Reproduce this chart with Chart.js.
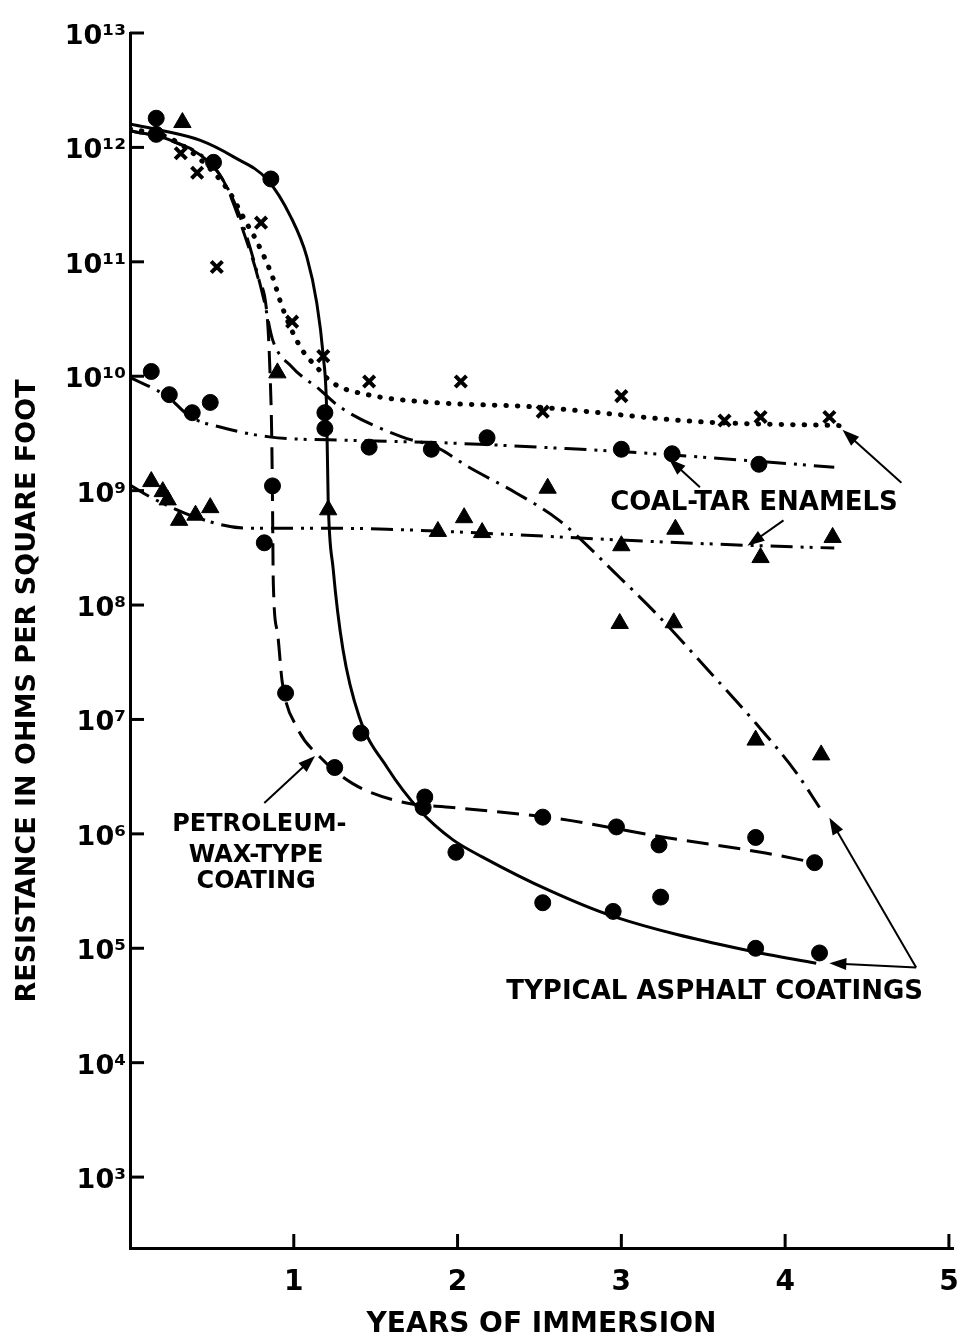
<!DOCTYPE html>
<html>
<head>
<meta charset="utf-8">
<script src="https://cdn.jsdelivr.net/npm/chart.js@4.4.1/dist/chart.umd.min.js"></script>
<style>
  html, body { margin: 0; padding: 0; background: #fff; }
  #wrap { width: 957px; height: 1342px; }
</style>
</head>
<body>
<div id="wrap"><canvas id="coatingChart"></canvas></div>
<script>
// values: years of immersion vs resistance (ohms per sq ft)

// typical asphalt coating, solid curve + circles
const asphaltCurveYears = [0, 0.2, 0.43, 0.63, 0.84, 0.98, 1.08, 1.14, 1.18, 1.2, 1.21, 1.24, 1.3, 1.4, 1.57, 1.77, 1.97, 2.15, 2.56, 2.95, 3.78, 4.19];
const asphaltCurveOhms = [1.6e12, 1.4e12, 1.15e12, 8.3e11, 5.2e11, 2.5e11, 1.1e11, 4.4e10, 1.5e10, 5.4e9, 8.3e8, 2.1e8, 4.1e7, 1.05e7, 3.8e6, 1.6e6, 8.9e5, 6.3e5, 3.2e5, 1.9e5, 9.5e4, 7.4e4];
const asphaltDotYears = [0.16, 0.16, 0.86, 1.19, 1.19, 1.41, 1.79, 1.99, 2.52, 2.95, 3.24, 3.82, 4.21];
const asphaltDotOhms = [1.8e12, 1.3e12, 5.3e11, 4.8e9, 3.5e9, 7.6e6, 1.7e6, 6.9e5, 2.5e5, 2.1e5, 2.8e5, 1.0e5, 9.1e4];

// second asphalt coating, dash-dot curve + triangles
const asphalt2CurveYears = [0, 0.25, 0.51, 0.65, 0.75, 0.82, 0.87, 0.99, 1.16, 1.28, 1.66, 1.87, 2.07, 2.36, 2.62, 2.99, 3.21, 3.54, 3.82, 4.07, 4.21];
const asphalt2CurveOhms = [1.4e12, 1.15e12, 6.8e11, 3e11, 1.1e11, 4.5e10, 2.1e10, 1.2e10, 7.6e9, 5.4e9, 2.95e9, 2.4e9, 1.6e9, 9.5e8, 5.5e8, 1.74e8, 8.5e7, 2.6e7, 9.3e6, 3.4e6, 1.7e6];
const asphalt2DotYears = [0.32, 0.9, 1.21, 2.55, 2.99, 3.32, 3.82, 4.22];
const asphalt2DotOhms = [1.65e12, 1.07e10, 6.8e8, 1.05e9, 6.9e7, 7e7, 6.6e6, 4.9e6];

// petroleum-wax-type coating, dashed curve + circles
const waxCurveYears = [0, 0.25, 0.51, 0.59, 0.71, 0.78, 0.84, 0.855, 0.865, 0.87, 0.875, 0.9, 0.93, 1.02, 1.16, 1.36, 1.66, 1.97, 2.58, 3.27, 3.88, 4.18];
const waxCurveOhms = [1.4e12, 1.15e12, 6.8e11, 4.5e11, 1.55e11, 7.4e10, 3e10, 1.07e10, 3.2e9, 8.3e8, 1.55e8, 5.8e7, 2.1e7, 8.5e6, 4.7e6, 2.75e6, 1.9e6, 1.7e6, 1.38e6, 9.3e5, 6.8e5, 5.6e5];
const waxDotYears = [0.51, 0.87, 0.82, 0.95, 1.25, 1.8, 2.52, 2.97, 3.23, 3.82, 4.18];
const waxDotOhms = [7.4e11, 1.1e9, 3.5e8, 1.7e7, 3.8e6, 2.1e6, 1.4e6, 1.15e6, 8e5, 9.3e5, 5.6e5];

// coal-tar enamels: dotted curve + crosses
const tarXCurveYears = [0, 0.23, 0.41, 0.6, 0.71, 0.77, 0.87, 0.93, 1.04, 1.14, 1.24, 1.45, 1.85, 2.46, 3.48, 4.33];
const tarXCurveOhms = [1.45e12, 1.23e12, 8.3e11, 4.2e11, 2.2e11, 1.55e11, 7.4e10, 4e10, 1.8e10, 1.2e10, 8.7e9, 6.9e9, 5.9e9, 5.4e9, 4e9, 3.7e9];
const tarXDotYears = [0.31, 0.41, 0.53, 0.8, 0.99, 1.18, 1.46, 2.02, 2.52, 3.0, 3.63, 3.85, 4.27];
const tarXDotOhms = [8.9e11, 6e11, 9e10, 2.2e11, 3e10, 1.5e10, 9e9, 9e9, 4.9e9, 6.7e9, 4.1e9, 4.4e9, 4.4e9];

// coal-tar enamels: dash-dot-dot curve + circles
const tarCircleCurveYears = [0, 0.23, 0.37, 0.55, 0.85, 1.36, 1.97, 2.62, 2.99, 3.84, 4.3];
const tarCircleCurveOhms = [9.8e9, 6.6e9, 4.4e9, 3.6e9, 2.95e9, 2.75e9, 2.6e9, 2.35e9, 2.2e9, 1.8e9, 1.6e9];
const tarCircleDotYears = [0.13, 0.24, 0.38, 0.49, 1.46, 1.84, 2.18, 3.0, 3.31, 3.84];
const tarCircleDotOhms = [1.1e10, 6.9e9, 4.8e9, 5.9e9, 2.4e9, 2.3e9, 2.9e9, 2.3e9, 2.1e9, 1.7e9];

// coal-tar enamels: dash-dot-dot curve + triangles
const tarTriCurveYears = [0, 0.13, 0.41, 0.71, 1.16, 1.57, 2.38, 2.99, 3.84, 4.3];
const tarTriCurveOhms = [1.12e9, 8.7e8, 5.8e8, 4.7e8, 4.7e8, 4.6e8, 4.1e8, 3.7e8, 3.3e8, 3.15e8];
const tarTriDotYears = [0.13, 0.2, 0.23, 0.3, 0.4, 0.49, 1.88, 2.04, 2.15, 3.0, 3.33, 3.85, 4.29];
const tarTriDotOhms = [1.2e9, 9.8e8, 8.3e8, 5.5e8, 6.1e8, 7.1e8, 4.4e8, 5.8e8, 4.3e8, 3.3e8, 4.6e8, 2.6e8, 3.9e8];

// axis ticks
const xTickValues = [1, 2, 3, 4, 5];
const xTickLabels = ['1', '2', '3', '4', '5'];
const yTickValues = [1e3, 1e4, 1e5, 1e6, 1e7, 1e8, 1e9, 1e10, 1e11, 1e12, 1e13];
const yTickLabels = ['10³', '10⁴', '10⁵', '10⁶', '10⁷', '10⁸', '10⁹', '10¹⁰', '10¹¹', '10¹²', '10¹³'];

const FONT = "'DejaVu Sans', 'Liberation Sans', Arial, sans-serif";

// labels and arrows, placed in data units
const notes = [
    { text: 'COAL-TAR ENAMELS', x: 3.81, y: 7.8e8 },
    { text: 'PETROLEUM-', x: 0.79, y: 1.2e6 },
    { text: 'WAX-TYPE', x: 0.77, y: 6.5e5 },
    { text: 'COATING', x: 0.77, y: 3.8e5 },
    { text: 'TYPICAL ASPHALT COATINGS', x: 3.57, y: 4.1e4 }
];
const arrows = [
    [3.48, 1.07e9, 3.29, 1.9e9],
    [4.71, 1.17e9, 4.35, 3.4e9],
    [3.99, 5.5e8, 3.77, 3.3e8],
    [0.82, 1.86e6, 1.13, 4.8e6],
    [4.8, 6.8e4, 4.27, 1.38e6],
    [4.8, 6.8e4, 4.27, 7.4e4]
];

function pts(xs, ys) {
    return xs.map((x, i) => ({ x: x, y: ys[i] }));
}

function curve(xs, ys, dash, cap, width) {
    return {
        data: pts(xs, ys),
        showLine: true,
        borderColor: '#000',
        borderWidth: width || 3,
        borderDash: dash,
        borderCapStyle: cap || 'butt',
        pointRadius: 0,
        cubicInterpolationMode: 'monotone',
        fill: false
    };
}

function marks(xs, ys, style, r) {
    return {
        data: pts(xs, ys),
        showLine: false,
        pointStyle: style,
        pointRadius: r,
        backgroundColor: '#000',
        borderColor: '#000',
        borderWidth: style === 'crossRot' ? 4 : 1
    };
}

const decorations = {
    id: 'decorations',
    afterDatasetsDraw(chart) {
        const { ctx } = chart;
        const x = chart.scales.x;
        const y = chart.scales.y;
        ctx.save();
        ctx.strokeStyle = '#000';
        ctx.fillStyle = '#000';

        // inward tick marks
        ctx.lineWidth = 3;
        yTickValues.forEach(v => {
            const py = y.getPixelForValue(v);
            ctx.beginPath();
            ctx.moveTo(x.left, py);
            ctx.lineTo(x.left + 14, py);
            ctx.stroke();
        });
        xTickValues.forEach(v => {
            const px = x.getPixelForValue(v);
            ctx.beginPath();
            ctx.moveTo(px, y.bottom);
            ctx.lineTo(px, y.bottom - 14);
            ctx.stroke();
        });

        // y axis title
        ctx.save();
        ctx.translate(28, 691);
        ctx.rotate(-Math.PI / 2);
        ctx.font = 'bold 27px ' + FONT;
        ctx.textAlign = 'center';
        ctx.textBaseline = 'middle';
        ctx.fillText('RESISTANCE IN OHMS PER SQUARE FOOT', 0, 0);
        ctx.restore();

        // notes
        ctx.textAlign = 'center';
        ctx.textBaseline = 'middle';
        notes.forEach(n => {
            ctx.font = (n.text.length > 12 ? 'bold 26px ' : 'bold 24px ') + FONT;
            ctx.fillText(n.text, x.getPixelForValue(n.x), y.getPixelForValue(n.y));
        });

        // arrows
        ctx.lineWidth = 2;
        arrows.forEach(a => {
            const x1 = x.getPixelForValue(a[0]), y1 = y.getPixelForValue(a[1]);
            const x2 = x.getPixelForValue(a[2]), y2 = y.getPixelForValue(a[3]);
            const ang = Math.atan2(y2 - y1, x2 - x1);
            ctx.beginPath();
            ctx.moveTo(x1, y1);
            ctx.lineTo(x2 - 10 * Math.cos(ang), y2 - 10 * Math.sin(ang));
            ctx.stroke();
            ctx.beginPath();
            ctx.moveTo(x2, y2);
            ctx.lineTo(x2 - 17 * Math.cos(ang) + 6 * Math.sin(ang), y2 - 17 * Math.sin(ang) - 6 * Math.cos(ang));
            ctx.lineTo(x2 - 17 * Math.cos(ang) - 6 * Math.sin(ang), y2 - 17 * Math.sin(ang) + 6 * Math.cos(ang));
            ctx.closePath();
            ctx.fill();
        });
        ctx.restore();
    }
};

const ctx = document.getElementById('coatingChart').getContext('2d');
const coatingChart = new Chart(ctx, {
    type: 'scatter',
    data: {
        datasets: [
            curve(asphaltCurveYears, asphaltCurveOhms, []),
            curve(waxCurveYears, waxCurveOhms, [22, 10]),
            curve(asphalt2CurveYears, asphalt2CurveOhms, [24, 8, 3, 8]),
            curve(tarXCurveYears, tarXCurveOhms, [0.5, 11], 'round', 5),
            curve(tarCircleCurveYears, tarCircleCurveOhms, [22, 8, 3, 6, 3, 8]),
            curve(tarTriCurveYears, tarTriCurveOhms, [22, 8, 3, 6, 3, 8]),
            marks(asphaltDotYears, asphaltDotOhms, 'circle', 8),
            marks(waxDotYears, waxDotOhms, 'circle', 8),
            marks(asphalt2DotYears, asphalt2DotOhms, 'triangle', 10),
            marks(tarXDotYears, tarXDotOhms, 'crossRot', 8),
            marks(tarCircleDotYears, tarCircleDotOhms, 'circle', 8),
            marks(tarTriDotYears, tarTriDotOhms, 'triangle', 10)
        ]
    },
    options: {
        responsive: true,
        maintainAspectRatio: false,
        animation: false,
        layout: { autoPadding: false, padding: { top: 33, right: 4, left: 0, bottom: 0 } },
        plugins: {
            legend: { display: false },
            tooltip: { enabled: false }
        },
        scales: {
            x: {
                type: 'linear',
                min: 0,
                max: 5.025,
                bounds: 'data',
                afterBuildTicks: s => { s.ticks = xTickValues.map(v => ({ value: v })); },
                afterFit: s => { s.height = 94; s.paddingRight = 0; s.paddingLeft = 0; },
                grid: { display: false, drawTicks: false },
                border: { display: true, color: '#000', width: 3 },
                ticks: {
                    color: '#000',
                    padding: 18,
                    font: { family: FONT, size: 28, weight: 'bold' },
                    callback: (v, i) => xTickLabels[i]
                },
                title: {
                    display: true,
                    text: 'YEARS OF IMMERSION',
                    color: '#000',
                    font: { family: FONT, size: 28, weight: 'bold' },
                    padding: { top: 4, bottom: 0 }
                }
            },
            y: {
                type: 'logarithmic',
                min: 240,
                max: 1e13,
                bounds: 'data',
                afterBuildTicks: s => { s.ticks = yTickValues.map(v => ({ value: v })); },
                afterFit: s => { s.width = 130; },
                grid: { display: false, drawTicks: false },
                border: { display: true, color: '#000', width: 3 },
                ticks: {
                    color: '#000',
                    padding: 4,
                    labelOffset: 4,
                    font: { family: FONT, size: 27, weight: 'bold' },
                    callback: (v, i) => yTickLabels[i]
                }
            }
        }
    },
    plugins: [decorations]
});
</script>
</body>
</html>
